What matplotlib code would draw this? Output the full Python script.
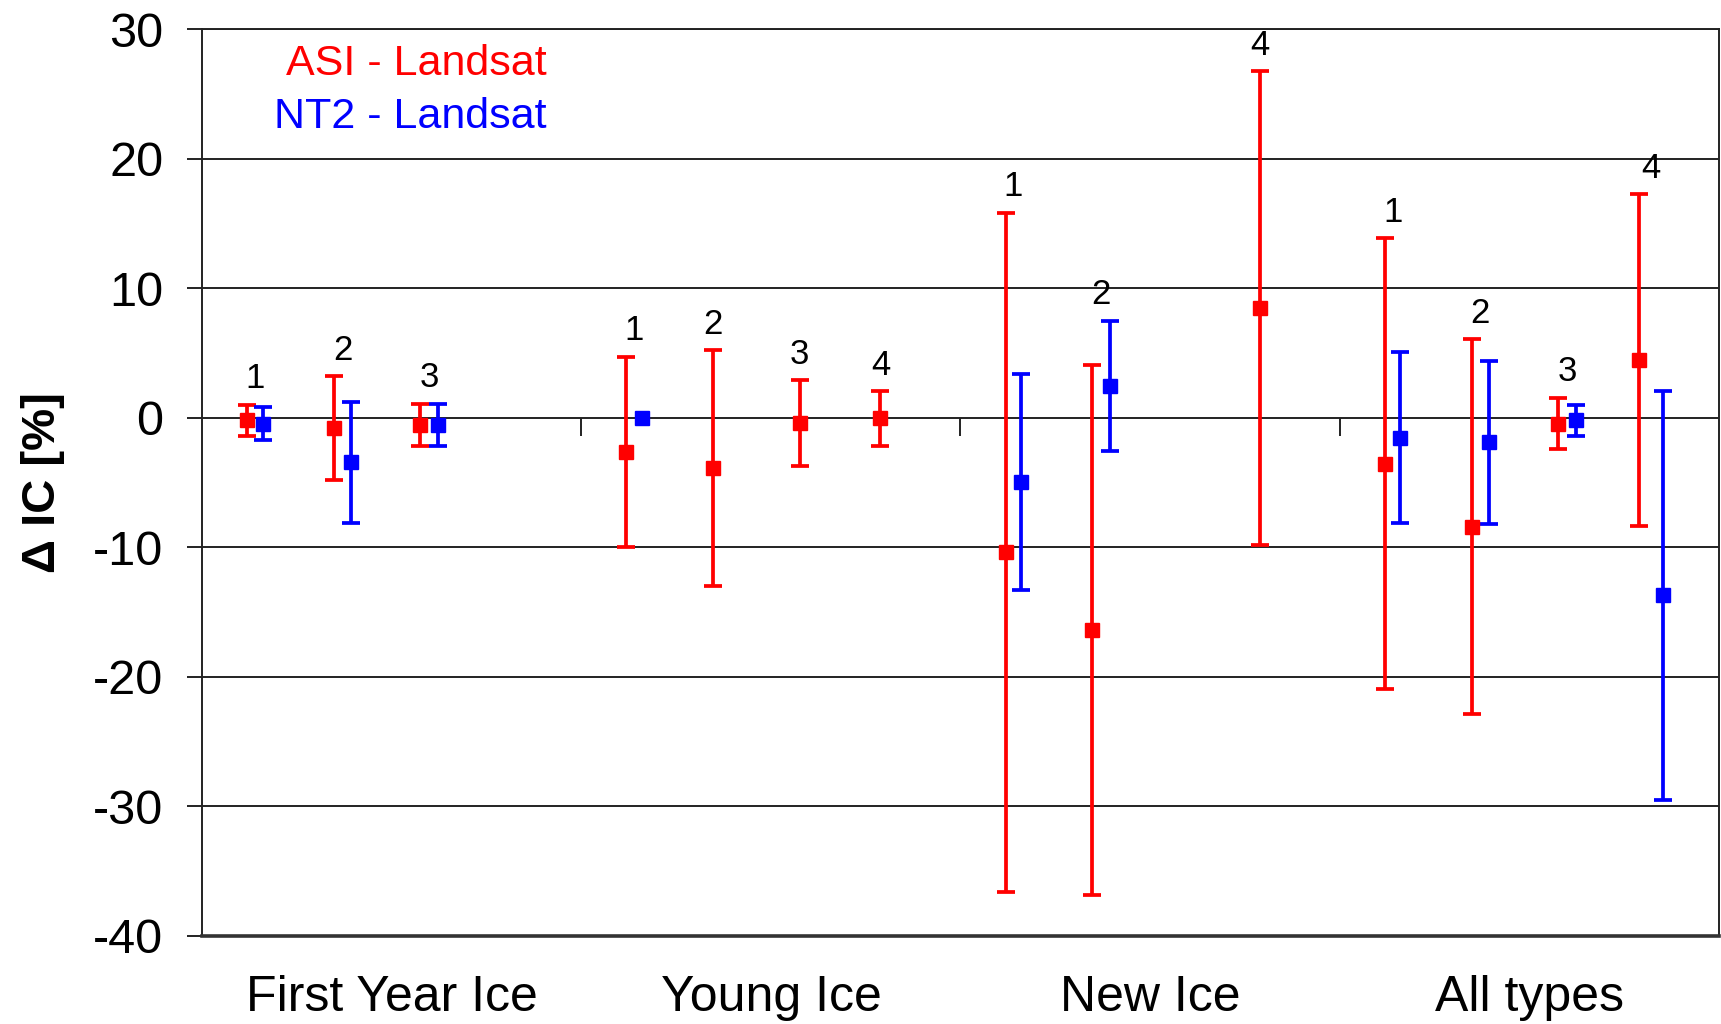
import numpy as np
import matplotlib
matplotlib.use('Agg')
import matplotlib.pyplot as plt

plt.rcParams['font.family'] = ['Liberation Sans', 'DejaVu Sans']
plt.rcParams['axes.unicode_minus'] = False

# ice types and comparison cases (1..4) inside each type
categories = ['First Year Ice', 'Young Ice', 'New Ice', 'All types']
case_labels = ['1', '2', '3', '4']

# ASI - Landsat: mean difference and error (None = case not shown)
asi_mean = [[-0.2, -0.8, -0.55, None],
            [-2.65, -3.9, -0.4, -0.05],
            [-10.4, -16.4, None, 8.45],
            [-3.55, -8.4, -0.45, 4.45]]
asi_err = [[1.2, 4.0, 1.6, None],
           [7.35, 9.1, 3.3, 2.1],
           [26.2, 20.45, None, 18.3],
           [17.4, 14.45, 2.0, 12.8]]

# NT2 - Landsat
nt2_mean = [[-0.45, -3.45, -0.55, None],
            [0.0, None, None, None],
            [-4.95, 2.45, None, None],
            [-1.55, -1.9, -0.2, -13.7]]
nt2_err = [[1.25, 4.7, 1.6, None],
           [0.0, None, None, None],
           [8.35, 5.05, None, None],
           [6.6, 6.3, 1.2, 15.8]]

# horizontal place of each case inside a category (layout only)
asi_off = [0.119, 0.348, 0.576, 0.789]
nt2_off = [0.160, 0.394, 0.622, 0.853]

RED = '#ff0000'
BLUE = '#0000ff'

fig = plt.figure(figsize=(17.21, 10.24), dpi=100)
ax = fig.add_axes([0.1174, 0.0862, 0.8814, 0.8852])


def draw_series(means, errs, offs, color):
    for i in range(len(categories)):
        for j in range(4):
            m = means[i][j]
            if m is None:
                continue
            x = i + offs[j]
            e = errs[i][j]
            if e:
                ax.errorbar(x, m, yerr=e, fmt='none', ecolor=color,
                            elinewidth=2.7, capsize=6.5, capthick=2.7, zorder=3)
            ax.plot(x, m, 's', color=color, markersize=9.5, zorder=4)


draw_series(asi_mean, asi_err, asi_off, RED)
draw_series(nt2_mean, nt2_err, nt2_off, BLUE)

# case numbers above the upper whisker
for i in range(len(categories)):
    for j in range(4):
        xs, tops = [], []
        if asi_mean[i][j] is not None:
            xs.append(i + asi_off[j])
            tops.append(asi_mean[i][j] + (asi_err[i][j] or 0))
        if nt2_mean[i][j] is not None:
            xs.append(i + nt2_off[j])
            tops.append(nt2_mean[i][j] + (nt2_err[i][j] or 0))
        if not xs:
            continue
        ax.annotate(case_labels[j], (np.mean(xs), max(tops)),
                    xytext=(0, 12), textcoords='offset points',
                    ha='center', va='baseline', fontsize=25, color='black')

ax.set_xlim(0, len(categories))
ax.set_ylim(-40, 30)
ax.set_yticks(np.arange(-40, 31, 10))
ax.tick_params(axis='y', labelsize=35, length=11, width=1.4,
               color='#222222', pad=17)
ax.yaxis.grid(True, color='#222222', linewidth=1.4)
ax.set_axisbelow(True)

ax.set_xticks(np.arange(len(categories)) + 0.5)
ax.set_xticklabels(categories)
ax.tick_params(axis='x', labelsize=36, length=0, pad=28)

# category separators on the zero line
ax.vlines(np.arange(1, len(categories)), -1.4, 0, color='#222222',
          linewidth=1.4, zorder=2)

for s in ['top', 'right', 'left']:
    ax.spines[s].set_linewidth(1.4)
    ax.spines[s].set_color('#222222')
ax.spines['bottom'].set_linewidth(2.6)
ax.spines['bottom'].set_color('#333333')

ax.set_ylabel('\u0394 IC [%]', fontsize=34, fontweight='bold', labelpad=20)

ax.text(0.2274, 0.9617, 'ASI - Landsat', color=RED, fontsize=31,
        ha='right', va='center', transform=ax.transAxes)
ax.text(0.2274, 0.9033, 'NT2 - Landsat', color=BLUE, fontsize=31,
        ha='right', va='center', transform=ax.transAxes)

fig.savefig('out.png', dpi=100)
